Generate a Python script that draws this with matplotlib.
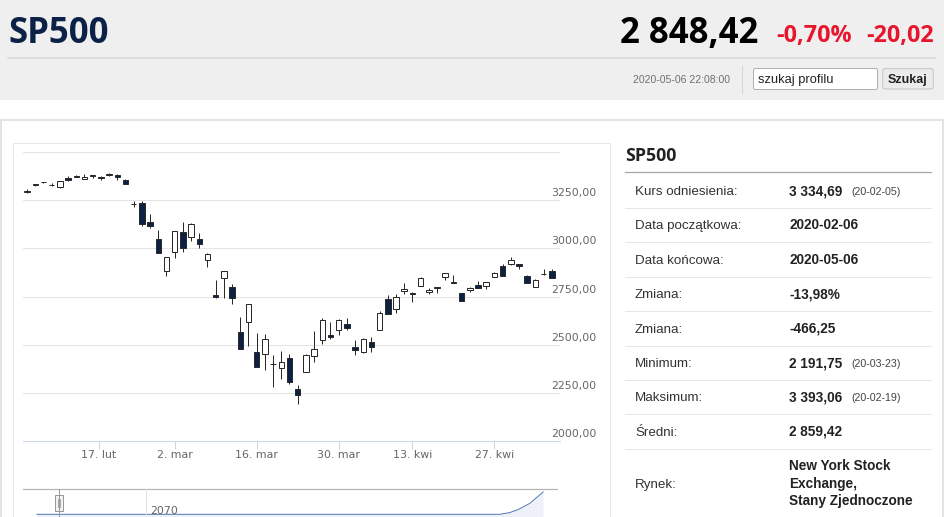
import numpy as np
import pandas as pd
import matplotlib
matplotlib.use("Agg")
import matplotlib.pyplot as plt
from matplotlib.patches import Rectangle, FancyBboxPatch

# ---------------- data ----------------
dates = ['2020-02-04','2020-02-05','2020-02-06','2020-02-07','2020-02-10','2020-02-11','2020-02-12',
         '2020-02-13','2020-02-14','2020-02-18','2020-02-19','2020-02-20','2020-02-21','2020-02-24',
         '2020-02-25','2020-02-26','2020-02-27','2020-02-28','2020-03-02','2020-03-03','2020-03-04',
         '2020-03-05','2020-03-06','2020-03-09','2020-03-10','2020-03-11','2020-03-12','2020-03-13',
         '2020-03-16','2020-03-17','2020-03-18','2020-03-19','2020-03-20','2020-03-23','2020-03-24',
         '2020-03-25','2020-03-26','2020-03-27','2020-03-30','2020-03-31','2020-04-01','2020-04-02',
         '2020-04-03','2020-04-06','2020-04-07','2020-04-08','2020-04-09','2020-04-13','2020-04-14',
         '2020-04-15','2020-04-16','2020-04-17','2020-04-20','2020-04-21','2020-04-22','2020-04-23',
         '2020-04-24','2020-04-27','2020-04-28','2020-04-29','2020-04-30','2020-05-01','2020-05-04',
         '2020-05-05','2020-05-06']
opens  = [3293,3330,3344,3330,3318,3366,3371,3362,3378,3369,3380,3380,3356,3234,3239,3140,3050,2882,
          2980,3085,3062,3050,2938,2758,2845,2800,2566,2618,2460,2450,2401,2377,2430,2268,2356,2442,
          2526,2548,2575,2606,2490,2459,2515,2578,2739,2685,2777,2770,2805,2772,2797,2850,2826,2766,
          2782,2810,2806,2853,2910,2918,2919,2858,2800,2866,2883]
highs  = [3307,3338,3348,3341,3352,3376,3381,3385,3381,3375,3394,3389,3360,3248,3247,3182,3097,2956,
          3091,3136,3131,3083,2975,2836,2883,2815,2645,2711,2560,2555,2448,2467,2453,2290,2449,2571,
          2637,2615,2632,2640,2523,2533,2538,2677,2757,2761,2818,2772,2850,2792,2800,2872,2864,2770,
          2800,2832,2827,2876,2921,2955,2921,2862,2839,2894,2891]
lows   = [3288,3323,3340,3326,3317,3353,3370,3360,3366,3356,3379,3358,3333,3218,3119,3109,2977,2858,
          2948,2980,3040,3005,2902,2744,2745,2710,2476,2495,2381,2370,2280,2320,2296,2192,2356,2408,
          2505,2530,2550,2575,2448,2456,2460,2575,2658,2663,2762,2721,2805,2765,2766,2835,2818,2727,
          2776,2792,2788,2852,2856,2912,2893,2820,2798,2864,2845]
closes = [3297,3334,3346,3328,3352,3358,3379,3374,3380,3370,3386,3373,3338,3232,3128,3116,2979,2954,
          3090,3003,3130,3024,2972,2747,2882,2741,2478,2711,2386,2529,2398,2409,2305,2237,2447,2476,
          2630,2541,2627,2585,2470,2527,2489,2664,2659,2750,2790,2762,2846,2783,2799,2870,2823,2729,
          2795,2794,2824,2873,2858,2940,2910,2823,2837,2867,2848]

tick_dates  = ['2020-02-17','2020-03-02','2020-03-16','2020-03-30','2020-04-13','2020-04-27']
tick_labels = ['17. lut','2. mar','16. mar','30. mar','13. kwi','27. kwi']
y_ticks = [2000, 2250, 2500, 2750, 3000, 3250, 3500]
y_labels = ['2000,00', '2250,00', '2500,00', '2750,00', '3000,00', '3250,00']

nav_t = [0.026, 0.50, 0.893, 0.912, 0.928, 0.949, 0.974]
nav_v = [0.0, 0.0, 0.0, 0.08, 0.22, 0.49, 1.0]
nav_label = '2070'

title = 'SP500'
last_price = '2 848,42'
chg_pct = '-0,70%'
chg_abs = '-20,02'
timestamp = '2020-05-06 22:08:00'

row_labels = ['Kurs odniesienia:', 'Data początkowa:', 'Data końcowa:', 'Zmiana:', 'Zmiana:',
              'Minimum:', 'Maksimum:', 'Średni:', 'Rynek:']
row_values = ['3 334,69', '2020-02-06', '2020-05-06', '-13,98%', '-466,25',
              '2 191,75', '3 393,06', '2 859,42', '']
row_notes = ['(20-02-05)', '', '', '', '', '(20-03-23)', '(20-02-19)', '', '']
market_lines = ['New York Stock', 'Exchange,', 'Stany Zjednoczone']

# ---------------- figure ----------------
W, H = 945, 517
fig = plt.figure(figsize=(W / 100, H / 100), dpi=100)
PX = 0.72  # points per pixel

bg = fig.add_axes([0, 0, 1, 1], zorder=0)
bg.set_xlim(0, W)
bg.set_ylim(H, 0)
bg.axis('off')

# header band
bg.add_patch(Rectangle((0, 0), W, 100, fc='#efefef', ec='none'))
bg.plot([8, 935], [57.5, 57.5], color='#d6d6d6', lw=1.5 * PX)
bg.text(8, 42.7, title, fontfamily='Open Sans', fontweight='bold', fontsize=25,
        color='#0b2246', va='baseline', ha='left')
bg.text(620, 42.7, last_price, fontfamily='Open Sans', fontweight='bold', fontsize=25,
        color='#000000', va='baseline', ha='left')
bg.text(776, 41.7, chg_pct, fontfamily='Open Sans', fontweight='bold', fontsize=16.8,
        color='#e8152d', va='baseline', ha='left')
bg.text(866.5, 41.7, chg_abs, fontfamily='Open Sans', fontweight='bold', fontsize=16.8,
        color='#e8152d', va='baseline', ha='left')
bg.text(633, 83.3, timestamp, fontfamily='Liberation Sans', fontsize=7.6,
        color='#707070', va='baseline', ha='left')
bg.plot([741.7, 741.7], [66, 93], color='#d4d4d4', lw=1 * PX)
bg.add_patch(FancyBboxPatch((753.5, 68.5), 124, 21, boxstyle='round,pad=0,rounding_size=2',
                            fc='white', ec='#b0b0b0', lw=1 * PX))
bg.text(758, 83.3, 'szukaj profilu', fontfamily='Liberation Sans', fontsize=9.3,
        color='#222222', va='baseline', ha='left')
bg.add_patch(FancyBboxPatch((882.7, 68.7), 50.6, 20.3, boxstyle='round,pad=0,rounding_size=2',
                            fc='#ebebeb', ec='#c4c4c4', lw=1 * PX))
bg.text(908, 83.5, 'Szukaj', fontfamily='Liberation Sans', fontweight='bold', fontsize=9,
        color='#222222', va='baseline', ha='center')

# content boxes
bg.add_patch(Rectangle((1, 120), 942, 420, fc='white', ec='#e3e3e3', lw=2 * PX))
bg.add_patch(Rectangle((13.3, 142.7), 596.5, 400, fc='white', ec='#e6e6e6', lw=1 * PX))

# right info panel
bg.text(625, 161, title, fontfamily='Open Sans', fontweight='bold', fontsize=12.8,
        color='#222222', va='baseline', ha='left')
bg.plot([625, 931], [171.7, 171.7], color='#a8a8a8', lw=1.3 * PX)
for k, (lab, val, note) in enumerate(zip(row_labels, row_values, row_notes)):
    base = 195 + 34.4 * k
    if k == len(row_labels) - 1:
        base = 488.3
    bg.text(635, base, lab, fontfamily='Liberation Sans', fontsize=9.6, color='#333333',
            va='baseline', ha='left')
    if val:
        bg.text(789, base, val, fontfamily='Liberation Sans', fontweight='bold', fontsize=9.8,
                color='#222222', va='baseline', ha='left')
    if note:
        bg.text(851, base, note, fontfamily='Liberation Sans', fontsize=7.7, color='#444444',
                va='baseline', ha='left')
    if k < len(row_labels) - 1:
        sep = base + 12.9
        bg.plot([625, 931], [sep, sep], color='#e6e6e6', lw=1 * PX)
for j, line in enumerate(market_lines):
    bg.text(789, 470 + 17.6 * j, line, fontfamily='Liberation Sans', fontweight='bold',
            fontsize=9.8, color='#222222', va='baseline', ha='left')

# ---------------- candlestick chart ----------------
x_left, x_right, y_top, y_bot = 23, 560, 152, 440.7
ax = fig.add_axes([x_left / W, 1 - y_bot / H, (x_right - x_left) / W, (y_bot - y_top) / H], zorder=1)
ax.set_facecolor('none')

O = np.array(opens, float); Hh = np.array(highs, float)
L = np.array(lows, float); C = np.array(closes, float)
idx = np.arange(len(dates))
up = C >= O
bottom = np.minimum(O, C)
height = np.maximum(np.abs(C - O), 0.8)

ax.vlines(idx, L, Hh, color='#2a2a2a', lw=1 * PX, zorder=2)
ax.bar(idx, height, bottom=bottom, width=0.66,
       color=np.where(up, '#ffffff', '#0d2145'), edgecolor='#2a2a2a', lw=1 * PX, zorder=3)

ax.set_xlim(-0.49, 65.0)
ax.set_ylim(2000, 3502)
ax.set_yticks(y_ticks)
ax.yaxis.grid(True, color='#e4e4e4', lw=1 * PX)
ax.tick_params(axis='y', length=0, labelleft=False, labelright=False)
for v, lab in zip(y_ticks, y_labels):
    ax.annotate(lab, xy=(0.983, v), xycoords=('axes fraction', 'data'), xytext=(0, 7),
                textcoords='offset pixels', ha='left', va='center', fontsize=7.9,
                color='#666666', annotation_clip=False)

d_ord = pd.to_datetime(dates).map(pd.Timestamp.toordinal).to_numpy()
t_ord = pd.to_datetime(tick_dates).map(pd.Timestamp.toordinal).to_numpy()
tick_pos = np.interp(t_ord, d_ord, idx)
ax.set_xticks(tick_pos)
ax.set_xticklabels(tick_labels)
ax.tick_params(axis='x', length=7.7 * PX, width=1 * PX, color='#ccd6eb', labelcolor='#666666',
               labelsize=7.9, pad=1.5)
for s in ['top', 'left', 'right']:
    ax.spines[s].set_visible(False)
ax.spines['bottom'].set_color('#ccd6eb')
ax.spines['bottom'].set_linewidth(1 * PX)
ax.set_axisbelow(True)

# ---------------- navigator ----------------
nx0, nx1, ny0 = 23, 557, 489.3
nav = fig.add_axes([nx0 / W, 0, (nx1 - nx0) / W, (H - ny0) / H], zorder=1)
nav.set_facecolor('none')
nav.set_xlim(0, 1)
nav.set_ylim(-0.12, 1.12)
nav.axis('off')
nav.fill_between(nav_t, nav_v, -0.12, color='#eef1f7', lw=0)
nav.plot(nav_t, nav_v, color='#5577b8', lw=1 * PX)

fg = fig.add_axes([0, 0, 1, 1], zorder=2)
fg.set_xlim(0, W)
fg.set_ylim(H, 0)
fg.axis('off')
fg.plot([nx0, nx1], [ny0, ny0], color='#b3b3b3', lw=1.2 * PX)
fg.plot([145.6, 145.6], [ny0, H], color='#e2e2e2', lw=1 * PX)
fg.plot([58.8, 58.8], [ny0, H], color='#9a9a9a', lw=1 * PX)
fg.add_patch(Rectangle((55, 495), 7.6, 15.7, fc='#f2f2f2', ec='#9a9a9a', lw=1 * PX))
fg.plot([57.8, 57.8], [499, 507], color='#9a9a9a', lw=0.8 * PX)
fg.plot([59.8, 59.8], [499, 507], color='#9a9a9a', lw=0.8 * PX)
fg.text(150, 514, nav_label, fontsize=7.9, color='#666666', va='baseline', ha='left')

fig.savefig('out.png', dpi=100)
